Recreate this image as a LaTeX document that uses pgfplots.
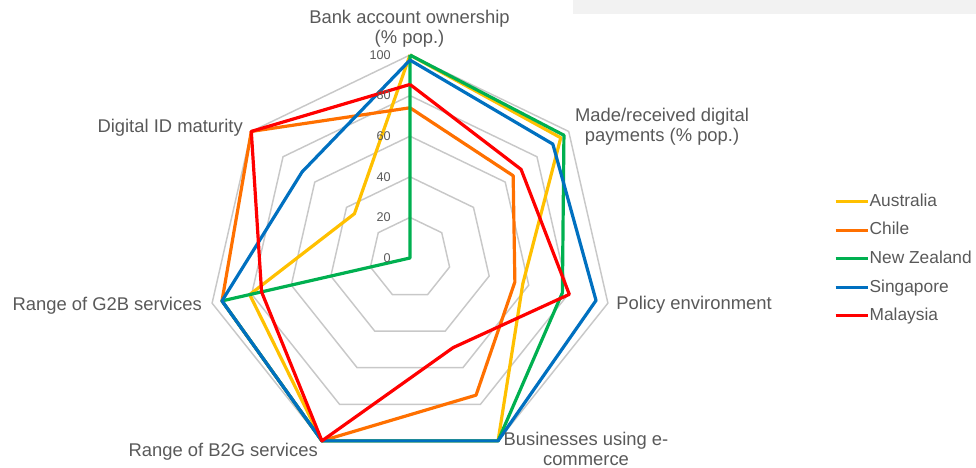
\documentclass[border=0pt]{standalone}
\usepackage{fontspec}
\setmainfont{Liberation Sans}
\usepackage{pgfplots}
\pgfplotsset{compat=1.18}
\usepgfplotslibrary{polar}
\definecolor{txt}{HTML}{595959}
\definecolor{gridc}{HTML}{C8C8C8}
\definecolor{cAus}{HTML}{FFC000}
\definecolor{cChi}{HTML}{FF7000}
\definecolor{cNZ}{HTML}{00B050}
\definecolor{cSin}{HTML}{0070C0}
\definecolor{cMal}{HTML}{FF0000}
\definecolor{band}{HTML}{F2F2F2}
\begin{document}
\begin{tikzpicture}[x=0.75pt,y=0.75pt]
\useasboundingbox (0,0) rectangle (976,468);
\fill[band] (573,454) rectangle (976,468);
\begin{polaraxis}[
  at={(307.5pt,157.5pt)}, anchor=center,
  width=304.5pt, height=304.5pt, scale only axis,
  xmin=0, xmax=360, ymin=0, ymax=100,
  hide axis, clip=false,
  xtick=\empty, ytick=\empty,
  legend style={at={(1.534,0.498)}, anchor=west, draw=none, fill=none,
    font=\fontsize{13}{15}\selectfont, text=txt,
    row sep=8.8pt,
    nodes={inner sep=0.3pt, text height=9.5pt, text depth=2.5pt}},
  legend cell align=left,
  legend image code/.code={\draw[#1] (0pt,0pt) -- (24pt,0pt);},
]
% grid heptagons
\addplot[gridc, line width=1.1pt, forget plot] coordinates {(90,20) (38.571,20) (347.143,20) (295.714,20) (244.286,20) (192.857,20) (141.429,20) (90,20)};
\addplot[gridc, line width=1.1pt, forget plot] coordinates {(90,40) (38.571,40) (347.143,40) (295.714,40) (244.286,40) (192.857,40) (141.429,40) (90,40)};
\addplot[gridc, line width=1.1pt, forget plot] coordinates {(90,60) (38.571,60) (347.143,60) (295.714,60) (244.286,60) (192.857,60) (141.429,60) (90,60)};
\addplot[gridc, line width=1.1pt, forget plot] coordinates {(90,80) (38.571,80) (347.143,80) (295.714,80) (244.286,80) (192.857,80) (141.429,80) (90,80)};
\addplot[gridc, line width=1.1pt, forget plot] coordinates {(90,100) (38.571,100) (347.143,100) (295.714,100) (244.286,100) (192.857,100) (141.429,100) (90,100)};
% data
\addplot[cAus, line width=2.4pt, line join=round] coordinates {(90,100) (38.571,95) (347.143,57) (295.714,100) (244.286,100) (192.857,81) (141.429,35) (90,100)};
\addlegendentry{Australia}
\addplot[cChi, line width=2.4pt, line join=round] coordinates {(90,74) (38.571,65) (347.143,53) (295.714,75) (244.286,100) (192.857,95) (141.429,100) (90,74)};
\addlegendentry{Chile}
\addplot[cNZ, line width=2.4pt, line join=round] coordinates {(90,100) (38.571,97) (347.143,77) (295.714,100) (244.286,100) (192.857,95) (141.429,0) (90,100)};
\addlegendentry{New Zealand}
\addplot[cSin, line width=2.4pt, line join=round] coordinates {(90,97.5) (38.571,90) (347.143,94) (295.714,100) (244.286,100) (192.857,95) (141.429,68) (90,97.5)};
\addlegendentry{Singapore}
\addplot[cMal, line width=2.4pt, line join=round] coordinates {(90,85.5) (38.571,70) (347.143,80.5) (295.714,49) (244.286,100) (192.857,75) (141.429,100) (90,85.5)};
\addlegendentry{Malaysia}
\end{polaraxis}
% tick labels
\foreach \v in {0,20,40,60,80,100}{
  \node[anchor=east, inner sep=0pt, text=txt, font=\fontsize{9.5}{11}\selectfont] at (391,{210+2.03*\v}) {\v};
}
% category labels
\begin{scope}[every node/.style={inner sep=0pt, text=txt, font=\fontsize{13.8}{16}\selectfont}]
\node[anchor=base] at (409.5,{468-23.3}) {Bank account ownership};
\node[anchor=base] at (409.5,{468-43.5}) {(\% pop.)};
\node[anchor=base] at (662,{468-122}) {Made/received digital};
\node[anchor=base] at (662,{468-142}) {payments (\% pop.)};
\node[anchor=base west] at (616,{468-310}) {Policy environment};
\node[anchor=base] at (586,{468-446}) {Businesses using e-};
\node[anchor=base] at (586,{468-465.5}) {commerce};
\node[anchor=base east] at (318,{468-456.5}) {Range of B2G services};
\node[anchor=base east] at (202,{468-311}) {Range of G2B services};
\node[anchor=base east] at (243,{468-132.5}) {Digital ID maturity};
\end{scope}
\end{tikzpicture}
\end{document}
